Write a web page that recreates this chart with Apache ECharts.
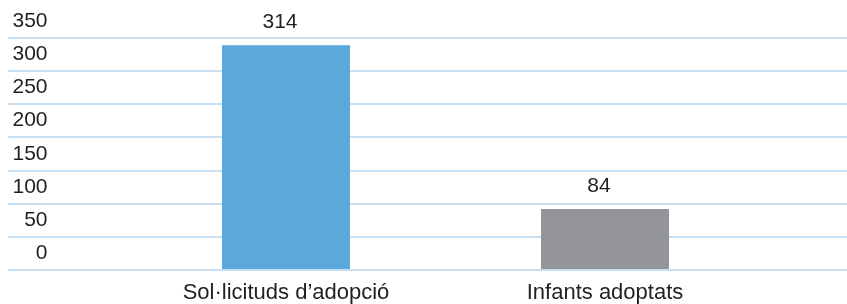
<!doctype html>
<html>
<head>
    <meta charset="UTF-8">
    <title>Adopcions</title>
    <script src="https://cdn.jsdelivr.net/npm/echarts@6/dist/echarts.min.js"></script>
    <style>
        html, body { margin: 0; padding: 0; background: #fff; }
        #main { width: 847px; height: 304px; }
    </style>
</head>
<body>
<div id="main"></div>
<script type="text/javascript">
    // dades del gràfic
    var categories = ['Sol·licituds d\u2019adopció', 'Infants adoptats'];
    var values = [314, 84];
    var yTickLabels = ['0', '50', '100', '150', '200', '250', '300', '350'];

    var barColors = ['#5ca8db', '#939598'];
    var textColor = '#231f20';
    var lineColor = '#b3d4ef';
    var font = 'Liberation Sans, Arial, sans-serif';

    var myChart = echarts.init(document.getElementById('main'));

    var option = {
        backgroundColor: '#fff',
        animation: false,
        grid: [
            // fons amb les línies i les etiquetes
            {left: 8, right: 0, top: 4.4, bottom: 34},
            // barres
            {left: 126.5, right: 82.5, top: 38, bottom: 34}
        ],
        xAxis: [{
            gridIndex: 0,
            type: 'value',
            show: false
        }, {
            gridIndex: 1,
            type: 'category',
            data: categories,
            axisLine: {show: false},
            axisTick: {show: false},
            axisLabel: {
                margin: 13,
                fontSize: 22,
                fontFamily: font,
                color: textColor
            }
        }],
        yAxis: [{
            gridIndex: 0,
            type: 'category',
            data: yTickLabels,
            offset: -39.5,
            axisLine: {show: false},
            axisTick: {show: false},
            axisLabel: {
                margin: 0,
                interval: 0,
                fontSize: 21,
                fontFamily: font,
                color: textColor
            },
            splitLine: {
                show: true,
                interval: 0,
                showMaxLine: false,
                lineStyle: {color: lineColor, width: 1.5}
            }
        }, {
            gridIndex: 1,
            type: 'value',
            min: 0,
            max: 324,
            show: false
        }],
        series: [{
            type: 'bar',
            xAxisIndex: 1,
            yAxisIndex: 1,
            barWidth: 128,
            data: values,
            itemStyle: {
                color: function (p) {
                    return barColors[p.dataIndex];
                }
            },
            label: {
                show: true,
                position: 'top',
                distance: 12,
                offset: [-6, 0],
                fontSize: 21,
                fontFamily: font,
                color: textColor
            }
        }]
    };

    myChart.setOption(option);
</script>
</body>
</html>
